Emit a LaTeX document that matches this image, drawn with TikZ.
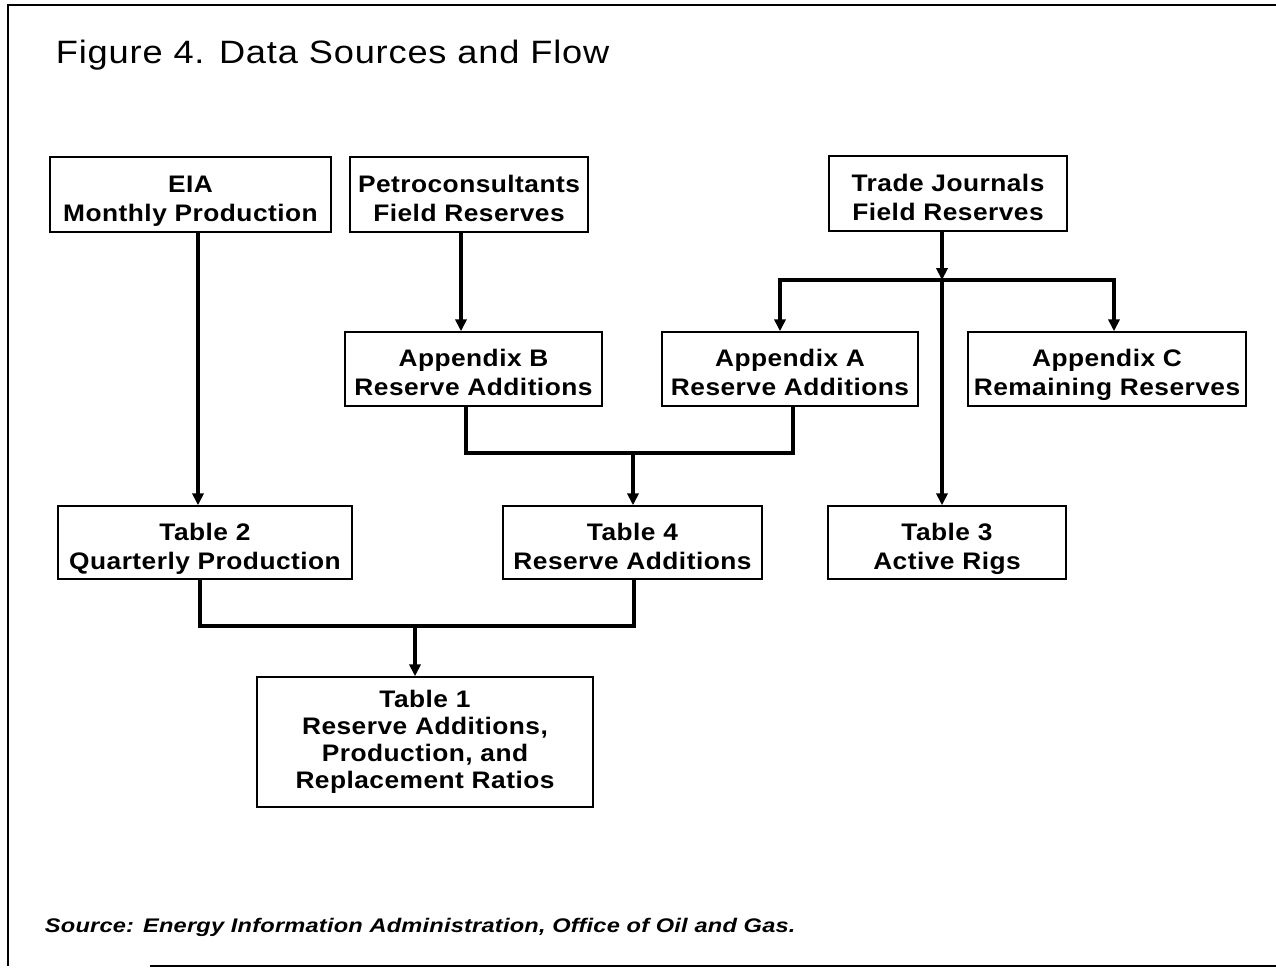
\documentclass[tikz,border=0pt]{standalone}
\usepackage{fontspec}
\setmainfont{Liberation Sans}
\newfontfamily\boxfont[FakeStretch=1.1,LetterSpace=2]{Liberation Sans}
\newfontfamily\titlefont[FakeStretch=1.12,LetterSpace=2.5]{Liberation Sans}
\newfontfamily\srcfont[FakeStretch=1.2,LetterSpace=1]{Liberation Sans}
\newcommand{\boxtop}{\rule{0pt}{22.4pt}}
\newcommand{\boxbot}{\rule[-5pt]{0pt}{5pt}}
\usetikzlibrary{arrows.meta,calc,positioning}
\begin{document}
\begin{tikzpicture}[x=0.025cm,y=-0.025cm]
			\tikzstyle{every node}=[font=\boxfont\bfseries\fontsize{17}{20.6}\selectfont]
			\tikzstyle{databox}=[draw, line width=1.1pt, align=center, inner sep=0pt]
			\tikzstyle{link}=[line width=2.8pt]
			\tikzstyle{flow}=[line width=2.8pt, -{Triangle[length=8.5pt,width=8pt]}]
			\useasboundingbox (0,0) rectangle (1276,967);
			\draw [line width=1.4pt] (1276,5) -- (8,5) -- (8,966);
			\draw [line width=1.1pt] (150,966) -- (1276,966);
			\node [anchor=base west, font=\titlefont\fontsize{23}{27}\selectfont] (title) at (51,63) {Figure 4. Data Sources and Flow};
			\node [databox, minimum width=7.03cm, minimum height=1.875cm] (eia) at (190.5,194.5) {\boxtop EIA\\Monthly Production\boxbot};
			\node [databox, minimum width=5.95cm, minimum height=1.875cm] (petro) at (469,194.5) {\boxtop Petroconsultants\\Field Reserves\boxbot};
			\node [databox, minimum width=5.95cm, minimum height=1.875cm] (trade) at (948,193.5) {\boxtop Trade Journals\\Field Reserves\boxbot};
			\node [databox, minimum width=6.425cm, minimum height=1.85cm] (appb) at (473.5,369) {\boxtop Appendix B\\Reserve Additions\boxbot};
			\node [databox, minimum width=6.4cm, minimum height=1.85cm] (appa) at (790,369) {\boxtop Appendix A\\Reserve Additions\boxbot};
			\node [databox, minimum width=6.95cm, minimum height=1.85cm] (appc) at (1107,369) {\boxtop Appendix C\\Remaining Reserves\boxbot};
			\node [databox, minimum width=7.35cm, minimum height=1.825cm] (ttwo) at (205,542.5) {\boxtop Table 2\\Quarterly Production\boxbot};
			\node [databox, minimum width=6.475cm, minimum height=1.825cm] (tfour) at (632.5,542.5) {\boxtop Table 4\\Reserve Additions\boxbot};
			\node [databox, minimum width=5.95cm, minimum height=1.825cm] (tthree) at (947,542.5) {\boxtop Table 3\\Active Rigs\boxbot};
			\node [databox, minimum width=8.4cm, minimum height=3.25cm, font=\boxfont\bfseries\fontsize{17}{19.2}\selectfont] (tone) at (425,742) {Table 1\\Reserve Additions,\\Production, and\\Replacement Ratios};
			\node [anchor=base west, font=\srcfont\bfseries\itshape\fontsize{14}{16}\selectfont] (source) at (40,932) {Source: Energy Information Administration, Office of Oil and Gas.};
			\coordinate (split) at (942,280);
			\coordinate (joinr) at (633,453);
			\coordinate (joinl) at (415,626);
			\draw [flow] ($(eia.south)+(7.5,0)$) coordinate (e1) -- (e1 |- ttwo.north);
			\draw [flow] ($(petro.south)+(-8,0)$) coordinate (p1) -- (p1 |- appb.north);
			\draw [flow] (trade.south -| split) -- (split);
			\draw [flow] (split) -| ($(appa.north)+(-10,0)$);
			\draw [flow] (split) -| ($(appc.north)+(7,0)$);
			\draw [flow] (split) -- (split |- tthree.north);
			\draw [link] ($(appb.south)+(-7.5,0)$) |- (joinr) -| ($(appa.south)+(3,0)$);
			\draw [flow] (joinr) -- (joinr |- tfour.north);
			\draw [link] ($(ttwo.south)+(-5,0)$) |- (joinl) -| ($(tfour.south)+(1.5,0)$);
			\draw [flow] (joinl) -- (joinl |- tone.north);
		\end{tikzpicture}
\end{document}
